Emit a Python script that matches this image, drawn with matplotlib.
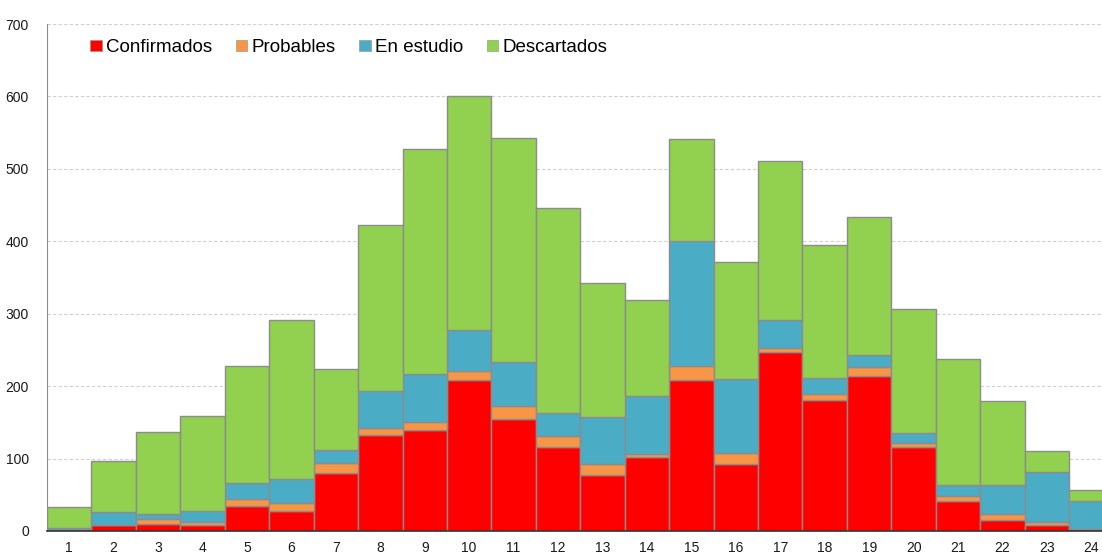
import matplotlib
matplotlib.use("Agg")
import matplotlib.pyplot as plt
from matplotlib.patches import Patch
import numpy as np

plt.rcParams["font.family"] = ["Liberation Sans", "DejaVu Sans"]

semanas = list(range(1, 25))
confirmados = [2, 8, 9, 8, 34, 28, 80, 133, 139, 208, 155, 116,
               77, 102, 209, 93, 247, 181, 214, 116, 42, 15, 8, 3]
probables = [0, 0, 7, 5, 10, 10, 14, 9, 11, 13, 18, 15,
             15, 5, 19, 15, 6, 8, 12, 5, 7, 8, 4, 0]
en_estudio = [2, 18, 7, 14, 22, 34, 18, 51, 67, 57, 60, 32,
              65, 80, 173, 102, 39, 22, 17, 14, 15, 40, 70, 39]
descartados = [29, 70, 113, 132, 162, 220, 112, 230, 310, 322, 309, 283,
               186, 132, 140, 162, 219, 184, 190, 172, 174, 116, 28, 14]

series = [
    ("Confirmados", confirmados, "#ff0000"),
    ("Probables", probables, "#f79646"),
    ("En estudio", en_estudio, "#4bacc6"),
    ("Descartados", descartados, "#92d050"),
]

fig = plt.figure(figsize=(11.02, 5.55), dpi=100)
ax = fig.add_axes([47 / 1102, 1 - 531 / 555, 1 - 47 / 1102, (531 - 24) / 555])

bottom = np.zeros(len(semanas))
handles = []
for label, values, color in series:
    ax.bar(semanas, values, width=1.0, bottom=bottom, color=color,
           edgecolor="#8c8c8c", linewidth=1.0, zorder=3)
    bottom += np.array(values)
    handles.append(Patch(facecolor=color, edgecolor="#8c8c8c", linewidth=0.4, label=label))

ax.set_xlim(0.5, 24.24)
ax.set_ylim(0, 700)
ax.set_yticks(range(0, 701, 100))
ax.set_xticks(semanas)
ax.tick_params(axis="both", length=0, labelsize=10, colors="#1a1a1a")
ax.tick_params(axis="y", pad=13)
ax.tick_params(axis="x", pad=7)

ax.grid(True, axis="y", color="#d0d0d0", linestyle=(0, (3, 2)), linewidth=0.8, zorder=0)
for side in ("top", "right"):
    ax.spines[side].set_visible(False)
ax.spines["left"].set_color("#8c8c8c")
ax.spines["bottom"].set_color("#333333")
ax.spines["bottom"].set_linewidth(1.2)
ax.spines["bottom"].set_zorder(5)

ax.legend(handles=handles, loc="upper left", ncol=4, frameon=False,
          fontsize=13.5, handlelength=0.6, handleheight=0.6,
          handletextpad=0.25, columnspacing=1.25,
          bbox_to_anchor=(0.034, 0.985), borderaxespad=0)

fig.savefig("out.png", dpi=100)
